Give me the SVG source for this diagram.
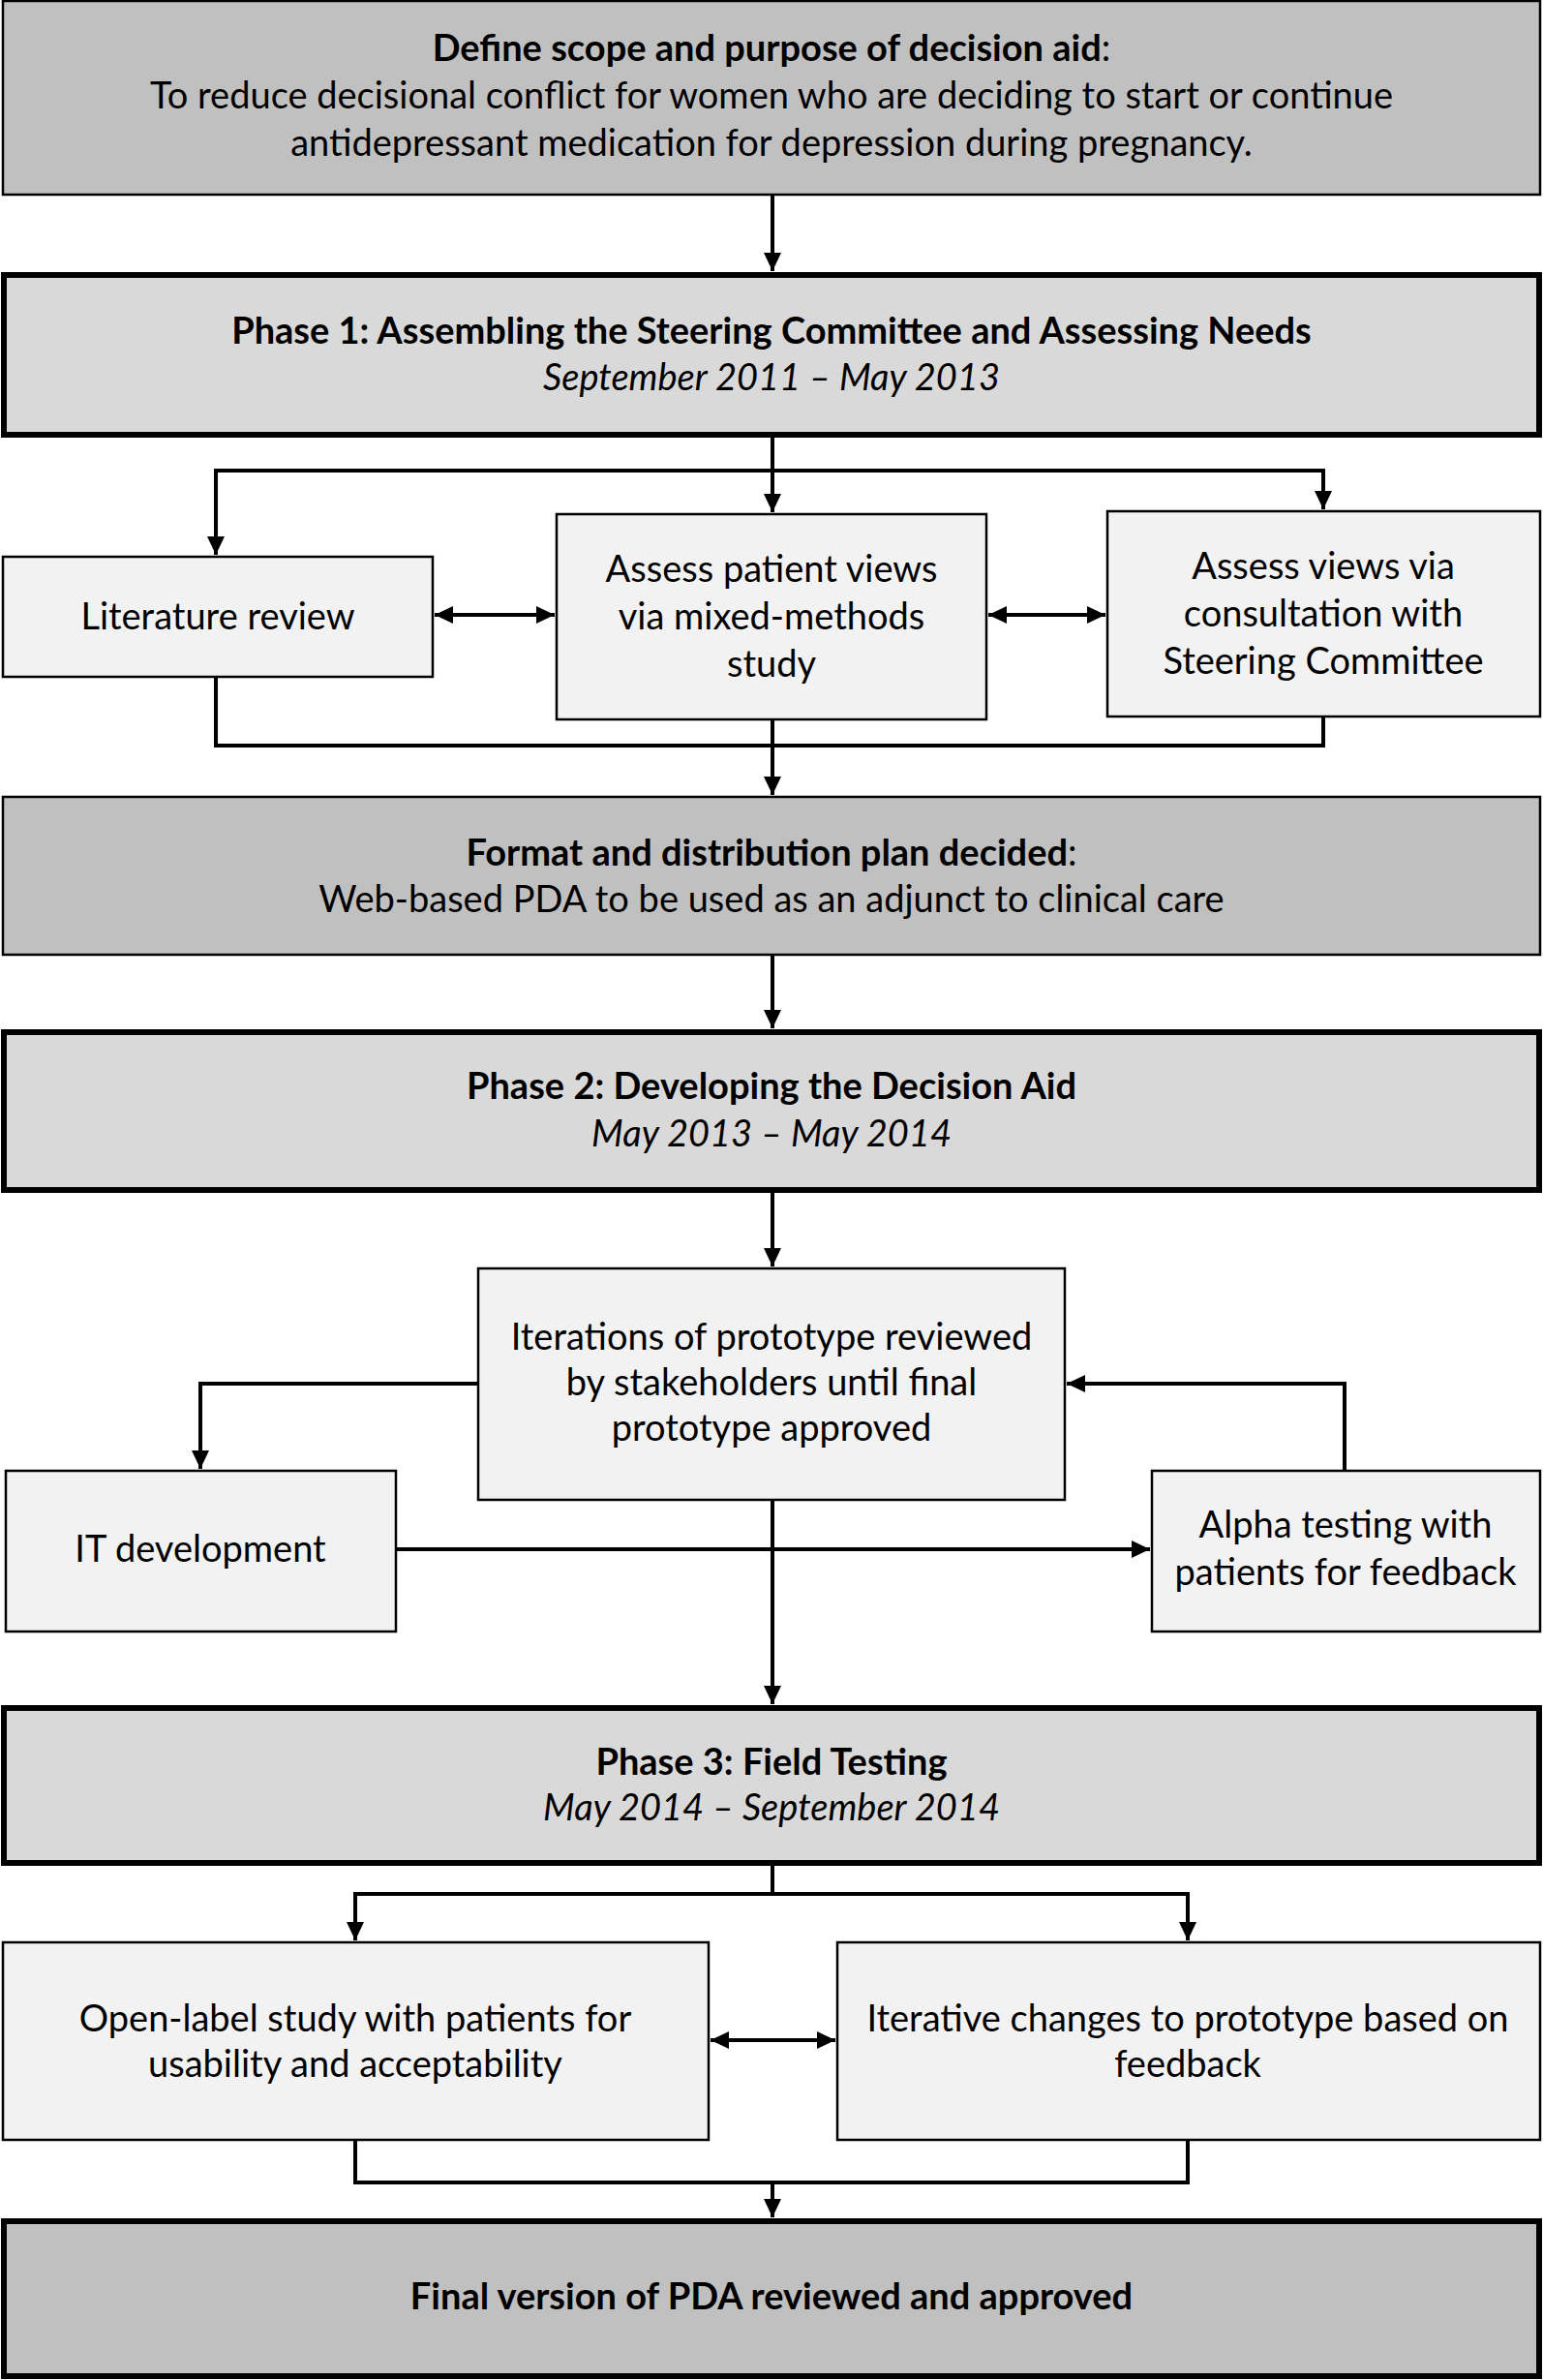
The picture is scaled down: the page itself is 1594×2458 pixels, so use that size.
<svg xmlns="http://www.w3.org/2000/svg" width="1594" height="2458" viewBox="0 0 1594 2458">
<style>
.dark{fill:#c0c0c0;stroke:#000;stroke-width:2.5}
.phase{fill:#d9d9d9;stroke:#000;stroke-width:6}
.finalb{fill:#c0c0c0;stroke:#000;stroke-width:6}
.light{fill:#f2f2f2;stroke:#000;stroke-width:2.5}
text{font-family:Lato,"Open Sans","Liberation Sans",sans-serif;font-size:38px;fill:#000;text-anchor:middle}
.b{font-weight:bold}
.i{font-style:italic}
.c{fill:none;stroke:#000;stroke-width:4}
</style>
<defs>
<marker id="ah" markerUnits="userSpaceOnUse" markerWidth="22" markerHeight="20" refX="19" refY="9" orient="auto-start-reverse"><path d="M0,0 L19,9 L0,18 z" fill="#000"/></marker>
</defs>
<g id="n-scope"><rect class="dark" x="3" y="1" width="1588" height="200"/>
<text x="797" y="63"><tspan class="b">Define scope and purpose of decision aid</tspan>:</text>
<text x="797" y="112">To reduce decisional conflict for women who are deciding to start or continue</text>
<text x="797" y="161">antidepressant medication for depression during pregnancy.</text></g>
<g id="n-phase1"><rect class="phase" x="4" y="284" width="1586" height="165"/>
<text class="b" x="797" y="355">Phase 1: Assembling the Steering Committee and Assessing Needs</text>
<text class="i" x="797" y="403">September 2011 – May 2013</text></g>
<g id="n-lit"><rect class="light" x="3" y="575" width="444" height="124"/>
<text x="225" y="650">Literature review</text></g>
<g id="n-patient"><rect class="light" x="575" y="531" width="444" height="212"/>
<text x="797" y="601">Assess patient views</text>
<text x="797" y="650">via mixed-methods</text>
<text x="797" y="699">study</text></g>
<g id="n-steer"><rect class="light" x="1144" y="528" width="447" height="212"/>
<text x="1367" y="598">Assess views via</text>
<text x="1367" y="647">consultation with</text>
<text x="1367" y="696">Steering Committee</text></g>
<g id="n-format"><rect class="dark" x="3" y="823" width="1588" height="163"/>
<text x="797" y="894"><tspan class="b">Format and distribution plan decided</tspan>:</text>
<text x="797" y="942">Web-based PDA to be used as an adjunct to clinical care</text></g>
<g id="n-phase2"><rect class="phase" x="4" y="1066" width="1586" height="163"/>
<text class="b" x="797" y="1135">Phase 2: Developing the Decision Aid</text>
<text class="i" x="797" y="1184">May 2013 – May 2014</text></g>
<g id="n-iter"><rect class="light" x="494" y="1310" width="606" height="239"/>
<text x="797" y="1394">Iterations of prototype reviewed</text>
<text x="797" y="1441">by stakeholders until final</text>
<text x="797" y="1488">prototype approved</text></g>
<g id="n-it"><rect class="light" x="6" y="1519" width="403" height="166"/>
<text x="207" y="1613">IT development</text></g>
<g id="n-alpha"><rect class="light" x="1190" y="1519" width="401" height="166"/>
<text x="1390" y="1588">Alpha testing with</text>
<text x="1390" y="1637">patients for feedback</text></g>
<g id="n-phase3"><rect class="phase" x="4" y="1764" width="1586" height="160"/>
<text class="b" x="797" y="1833">Phase 3: Field Testing</text>
<text class="i" x="797" y="1880">May 2014 – September 2014</text></g>
<g id="n-open"><rect class="light" x="3" y="2006" width="729" height="204"/>
<text x="367" y="2098">Open-label study with patients for</text>
<text x="367" y="2145">usability and acceptability</text></g>
<g id="n-changes"><rect class="light" x="865" y="2006" width="726" height="204"/>
<text x="1227" y="2098">Iterative changes to prototype based on</text>
<text x="1227" y="2145">feedback</text></g>
<g id="n-final"><rect class="finalb" x="4" y="2294" width="1586" height="160"/>
<text class="b" x="797" y="2385">Final version of PDA reviewed and approved</text></g>
<g id="connectors">
<path class="c" d="M798 201 V280" marker-end="url(#ah)"/>
<path class="c" d="M798 450 V529" marker-end="url(#ah)"/>
<path class="c" d="M798 486 H223 V573" marker-end="url(#ah)"/>
<path class="c" d="M798 486 H1367 V526" marker-end="url(#ah)"/>
<path class="c" d="M449 635 H573" marker-start="url(#ah)" marker-end="url(#ah)"/>
<path class="c" d="M1021 635 H1142" marker-start="url(#ah)" marker-end="url(#ah)"/>
<path class="c" d="M223 699 V770 H1367 V740"/>
<path class="c" d="M798 743 V821" marker-end="url(#ah)"/>
<path class="c" d="M798 986 V1062" marker-end="url(#ah)"/>
<path class="c" d="M798 1232 V1308" marker-end="url(#ah)"/>
<path class="c" d="M494 1429 H207 V1517" marker-end="url(#ah)"/>
<path class="c" d="M409 1600 H1188" marker-end="url(#ah)"/>
<path class="c" d="M1389 1519 V1429 H1102" marker-end="url(#ah)"/>
<path class="c" d="M798 1549 V1760" marker-end="url(#ah)"/>
<path class="c" d="M798 1926 V1956"/>
<path class="c" d="M798 1956 H367 V2004" marker-end="url(#ah)"/>
<path class="c" d="M798 1956 H1227 V2004" marker-end="url(#ah)"/>
<path class="c" d="M734 2107 H863" marker-start="url(#ah)" marker-end="url(#ah)"/>
<path class="c" d="M367 2210 V2254 H1227 V2210"/>
<path class="c" d="M798 2254 V2290" marker-end="url(#ah)"/>
</g>
</svg>
